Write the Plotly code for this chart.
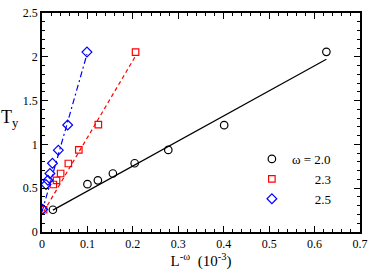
import plotly.graph_objects as go

# data
x_20 = [0.024, 0.100, 0.123, 0.156, 0.204, 0.278, 0.401, 0.626]
y_20 = [0.254, 0.546, 0.590, 0.668, 0.785, 0.937, 1.220, 2.057]
x_23 = [0.0035, 0.025, 0.032, 0.041, 0.058, 0.081, 0.124, 0.206]
y_23 = [0.254, 0.542, 0.590, 0.668, 0.782, 0.937, 1.225, 2.054]
x_25 = [0.0013, 0.0087, 0.013, 0.0174, 0.023, 0.036, 0.0565, 0.099]
y_25 = [0.259, 0.542, 0.590, 0.668, 0.785, 0.934, 1.221, 2.054]

# linear fits (endpoints)
fit_20_x = [0.024, 0.626]
fit_20_y = [0.250, 1.973]
fit_23_x = [0.004, 0.206]
fit_23_y = [0.235, 2.010]
fit_25_x = [0.0, 0.099]
fit_25_y = [0.230, 2.030]

font = "Liberation Serif"
fig = go.Figure()

fig.add_trace(go.Scatter(x=fit_20_x, y=fit_20_y, mode="lines",
                         line=dict(color="black", width=1.2), showlegend=False))
fig.add_trace(go.Scatter(x=fit_23_x, y=fit_23_y, mode="lines",
                         line=dict(color="#ff0000", width=1.2, dash="4px,3px"), showlegend=False))
fig.add_trace(go.Scatter(x=fit_25_x, y=fit_25_y, mode="lines",
                         line=dict(color="#0000ff", width=1.2, dash="6px,3px,2px,3px"), showlegend=False))

fig.add_trace(go.Scatter(x=x_20, y=y_20, mode="markers", name="ω = 2.0",
                         marker=dict(symbol="circle-open", size=7.5, color="black",
                                     line=dict(width=1.2))))
fig.add_trace(go.Scatter(x=x_23, y=y_23, mode="markers", name="\u00a0\u00a0\u00a0\u00a0\u00a0\u00a0\u00a02.3",
                         marker=dict(symbol="square-open", size=6.5, color="#ff0000",
                                     line=dict(width=1.2))))
fig.add_trace(go.Scatter(x=x_25, y=y_25, mode="markers", name="\u00a0\u00a0\u00a0\u00a0\u00a0\u00a0\u00a02.5",
                         marker=dict(symbol="diamond-open", size=7.5, color="#0000ff",
                                     line=dict(width=1.2))))

axis_common = dict(showgrid=False, zeroline=False, showline=True, linecolor="black",
                   linewidth=1.5, mirror="ticks", ticks="inside", ticklen=6,
                   tickcolor="black", tickwidth=1,
                   tickfont=dict(family=font, size=12, color="black"))

fig.update_xaxes(range=[0, 0.7], dtick=0.1, tick0=0,
                 minor=dict(dtick=0.02, ticks="inside", ticklen=3, tickcolor="black"),
                 title=dict(text="L<sup>-ω</sup>  (10<sup>-3</sup>)",
                            font=dict(family=font, size=15, color="black"), standoff=2),
                 **axis_common)
fig.update_yaxes(range=[0, 2.5], dtick=0.5, tick0=0,
                 minor=dict(dtick=0.1, ticks="inside", ticklen=3, tickcolor="black"),
                 **axis_common)

fig.add_annotation(text="T<sub>y</sub>", xref="paper", yref="paper",
                   x=-0.1, y=0.52, xanchor="center", yanchor="middle", showarrow=False,
                   font=dict(family=font, size=18, color="black"))

fig.update_layout(width=374, height=271,
                  margin=dict(l=42, r=10, t=6, b=39),
                  plot_bgcolor="white", paper_bgcolor="white",
                  font=dict(family=font, color="black"),
                  legend=dict(x=0.66, y=0.402, xanchor="left", yanchor="top",
                              bgcolor="rgba(0,0,0,0)",
                              font=dict(family=font, size=13, color="black"),
                              itemwidth=30, tracegroupgap=0))

fig.write_html("out.html", post_script="document.body.style.margin='0';",
               config={"displayModeBar": False})
